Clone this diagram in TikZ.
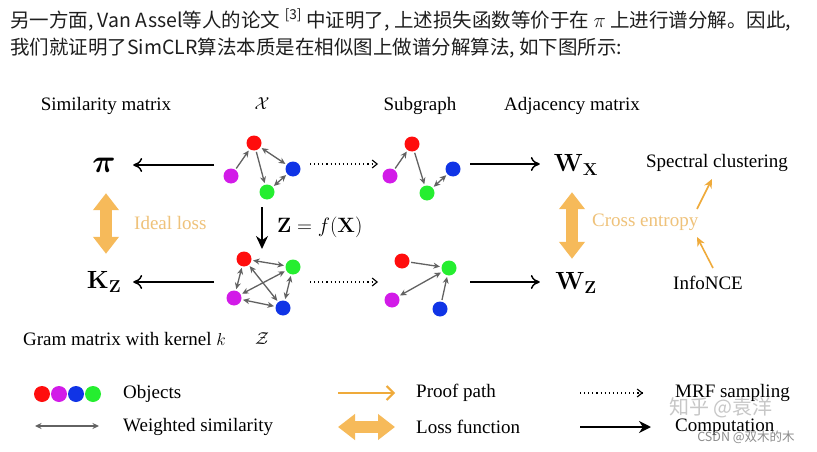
\documentclass[tikz,border=0pt]{standalone}
\usepackage{amsmath}
\usepackage{graphicx}
\usepackage[no-math]{fontspec}
\setmainfont{Liberation Serif}
\newfontfamily\cjk{Noto Sans CJK SC}
\usetikzlibrary{arrows.meta}
\definecolor{cred}{HTML}{FF0D0D}
\definecolor{cmag}{HTML}{D21BE8}
\definecolor{cblue}{HTML}{1034E6}
\definecolor{cgreen}{HTML}{25EE30}
\definecolor{simgray}{HTML}{626262}
\definecolor{orA}{HTML}{F6BA5A}
\definecolor{orT}{HTML}{EFC27A}
\definecolor{orL}{HTML}{EFAA3A}
\definecolor{hdrcol}{HTML}{1E1E1E}
\begin{document}
\begin{tikzpicture}[x=1pt,y=-1pt,
  hdr/.style={font=\cjk\fontsize{19.5}{22}\selectfont, text=hdrcol, inner sep=0pt, anchor=west},
  txt/.style={font=\fontsize{19}{22}\selectfont, inner sep=0pt},
  mat/.style={font=\fontsize{26}{30}\selectfont, inner sep=0pt, minimum height=56pt},
  obj/.style={circle, inner sep=0pt, minimum size=15pt},
  sim/.style={draw=simgray, line width=1.3pt, shorten <=1.5pt, shorten >=1.5pt,
    {Stealth[length=6.5pt,width=6pt]}-{Stealth[length=6.5pt,width=6pt]}},
  simto/.style={draw=simgray, line width=1.3pt, shorten <=1.5pt, shorten >=1.5pt,
    -{Stealth[length=6.5pt,width=6pt]}},
  comp/.style={draw=black, line width=1.5pt, -{Computer Modern Rightarrow[length=9pt,width=14pt]}},
  legcomp/.style={draw=black, line width=2pt, -{Stealth[length=12pt,width=12pt]}},
  zarr/.style={draw=black, line width=1.6pt, -{Stealth[length=13pt,width=12pt]}},
  mrf/.style={draw=black, line width=1.1pt, dash pattern=on 1.1pt off 3pt,
    -{Straight Barb[length=5pt,width=8pt]}},
  lossarr/.style={draw=orA, line width=12pt,
    {Triangle[length=17pt,width=25pt]}-{Triangle[length=17pt,width=25pt]}},
  proof/.style={draw=orL, line width=1.6pt, -{Stealth[length=9pt,width=8pt]}},
  proofleg/.style={draw=orL, line width=2pt, -{Straight Barb[length=7pt,width=14pt]}},
  wm/.style={font=\cjk\fontsize{20}{22}\selectfont, text=black!22, inner sep=0pt},
  wm2/.style={font=\cjk\fontsize{12.5}{14}\selectfont, text=black!45, inner sep=0pt}
]
\useasboundingbox (0,0) rectangle (817,452);
\fill[white] (0,0) rectangle (817,452);

% header
\node[hdr] (h1) at (10,20) {另一方面, Van Assel等人的论文 \textsuperscript{[3]} 中证明了, 上述损失函数等价于在 $\pi$ 上进行谱分解。因此,};
\node[hdr] (h2) at (10,48) {我们就证明了SimCLR算法本质是在相似图上做谱分解算法, 如下图所示:};

% column titles
\node[txt] (tsim) at (106,106) {Similarity matrix};
\node[txt] (tX) at (262,104) {$\mathcal{X}$};
\node[txt] (tsub) at (420,106) {Subgraph};
\node[txt] (tadj) at (572,106) {Adjacency matrix};

% matrices
\node[mat, minimum width=58pt] (pi) at (104,165) {\scalebox{1.3}{$\boldsymbol{\pi}$}};
\node[mat, minimum width=58pt] (kz) at (104,282) {$\mathbf{K}_{\mathbf{Z}}$};
\node[mat, minimum width=72pt] (wx) at (576,165) {$\mathbf{W}_{\mathbf{X}}$};
\node[mat, minimum width=72pt] (wz) at (576,283) {$\mathbf{W}_{\mathbf{Z}}$};

% graph X
\node[obj, fill=cred] (xr) at (254,143) {};
\node[obj, fill=cmag] (xm) at (231,176) {};
\node[obj, fill=cblue] (xb) at (293,169) {};
\node[obj, fill=cgreen] (xg) at (267,192) {};
\draw[simto] (xm) -- (xr);
\draw[simto] (xr) -- (xg);
\draw[sim] (xr) -- (xb);
\draw[sim] (xg) -- (xb);

% subgraph of X
\node[obj, fill=cred] (sr) at (412,144) {};
\node[obj, fill=cmag] (sm) at (390,176) {};
\node[obj, fill=cblue] (sb) at (453,169) {};
\node[obj, fill=cgreen] (sg) at (427,193) {};
\draw[simto] (sm) -- (sr);
\draw[simto] (sr) -- (sg);
\draw[sim] (sg) -- (sb);

% graph Z
\node[obj, fill=cred] (zr) at (244,259) {};
\node[obj, fill=cgreen] (zg) at (293,267) {};
\node[obj, fill=cmag] (zm) at (234,298) {};
\node[obj, fill=cblue] (zb) at (283,308) {};
\draw[sim] (zr) -- (zg);
\draw[sim] (zr) -- (zm);
\draw[sim] (zr) -- (zb);
\draw[sim] (zg) -- (zm);
\draw[sim] (zg) -- (zb);
\draw[sim] (zm) -- (zb);

% subgraph of Z
\node[obj, fill=cred] (tr) at (402,261) {};
\node[obj, fill=cgreen] (tg) at (449,268) {};
\node[obj, fill=cmag] (tm) at (392,300) {};
\node[obj, fill=cblue] (tb) at (440,309) {};
\draw[simto] (tr) -- (tg);
\draw[sim] (tg) -- (tm);
\draw[simto] (tb) -- (tg);

% computation arrows
\coordinate (xl) at (214,165);
\coordinate (zl) at (214,282);
\coordinate (xo) at (470,164);
\coordinate (zo) at (470,282);
\draw[comp] (xl) -- (pi);
\draw[comp] (zl) -- (kz);
\draw[comp] (xo) -- (xo -| wx.west);
\draw[comp] (zo) -- (zo -| wz.west);

% MRF sampling
\coordinate (xd1) at (310,164);
\coordinate (xd2) at (378,164);
\coordinate (zd1) at (310,282);
\coordinate (zd2) at (378,282);
\draw[mrf] (xd1) -- (xd2);
\draw[mrf] (zd1) -- (zd2);

% encoder
\coordinate (za) at (262,207);
\coordinate (zbb) at (262,249);
\draw[zarr] (za) -- (zbb);
\node[txt, font=\fontsize{21}{24}\selectfont, anchor=west] (fz) at (277,227) {$\mathbf{Z}=f(\mathbf{X})$};

% losses
\draw[lossarr] ([xshift=2pt]pi.south) -- ([xshift=2pt]kz.north);
\node[txt, anchor=west, text=orT] (il) at (134,223) {Ideal loss};
\draw[lossarr, shorten <=-1pt, shorten >=-4pt] ([xshift=-4pt]wx.south) -- ([xshift=-4pt]wz.north);
\node[txt, anchor=west, text=orT] (ce) at (592,222) {Cross entropy};

\node[txt] (sc) at (717,163) {Spectral clustering};
\node[txt] (inf) at (708,283) {InfoNCE};
\coordinate (p1a) at (697,209);
\coordinate (p1b) at (712,179);
\coordinate (p2a) at (713,268);
\coordinate (p2b) at (697,237);
\draw[proof] (p1a) -- (p1b);
\draw[proof] (p2a) -- (p2b);

% bottom labels
\node[txt, anchor=west] (gram) at (23,339) {Gram matrix with kernel $k$};
\node[txt] (tZ) at (262,339) {$\mathcal{Z}$};

% legend
\node[obj, fill=cred, minimum size=16pt] (l1) at (42,394) {};
\node[obj, fill=cmag, minimum size=16pt] (l2) at (59,394) {};
\node[obj, fill=cblue, minimum size=16pt] (l3) at (76,394) {};
\node[obj, fill=cgreen, minimum size=16pt] (l4) at (93,394) {};
\node[txt, anchor=west] (lobj) at (123,394) {Objects};
\coordinate (lw1) at (35,426);
\coordinate (lw2) at (99,426);
\draw[sim, line width=1.4pt, shorten <=0pt, shorten >=0pt] (lw1) -- (lw2);
\node[txt, anchor=west] (lws) at (123,427) {Weighted similarity};

\coordinate (lp1) at (338,393);
\coordinate (lp2) at (395,393);
\draw[proofleg] (lp1) -- (lp2);
\node[txt, anchor=west] (lpp) at (416,393) {Proof path};
\coordinate (ll1) at (338,427);
\coordinate (ll2) at (395,427);
\draw[lossarr] (ll1) -- (ll2);
\node[txt, anchor=west] (llf) at (416,427) {Loss function};

\coordinate (lm1) at (580,393);
\coordinate (lm2) at (643,393);
\draw[mrf] (lm1) -- (lm2);
\node[txt, anchor=west] (lmrf) at (675,393) {MRF sampling};
\coordinate (lc1) at (580,427);
\coordinate (lc2) at (651,427);
\draw[legcomp] (lc1) -- (lc2);
\node[txt, anchor=west] (lcomp) at (675,427) {Computation};

% watermarks
\node[wm] (wm1) at (721,408) {知乎 @袁洋};
\node[wm2] (wm2) at (746,437) {CSDN @双木的木};
\end{tikzpicture}
\end{document}
